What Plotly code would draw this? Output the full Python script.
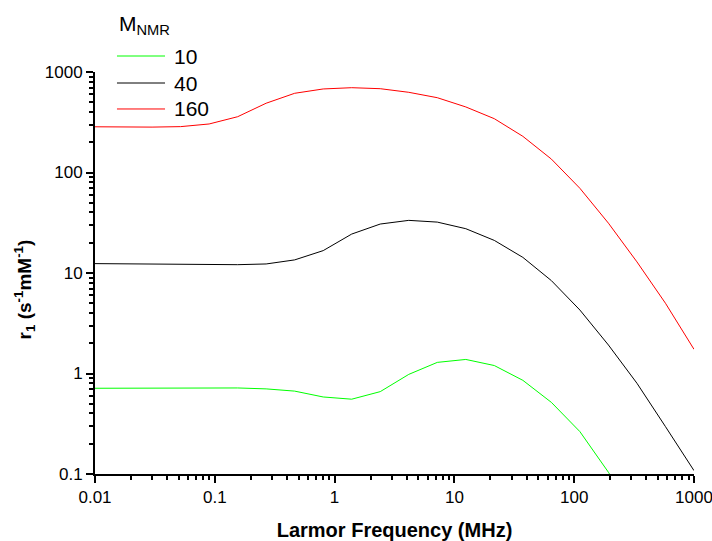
import plotly.graph_objects as go

freq_mhz = [0.01, 0.0173, 0.02995, 0.0518, 0.0897, 0.1552, 0.2683, 0.4642,
            0.8031, 1.389, 2.404, 4.160, 7.197, 12.45, 21.54, 37.28,
            64.49, 111.6, 193.1, 334.0, 577.9, 1000.0]

r1_m10 = [0.713, 0.715, 0.716, 0.718, 0.720, 0.718, 0.703, 0.668,
          0.584, 0.555, 0.66, 0.98, 1.29, 1.38, 1.20, 0.855,
          0.516, 0.264, 0.104, 0.035, 0.012, 0.004]
r1_m40 = [12.4, 12.35, 12.3, 12.2, 12.15, 12.1, 12.3, 13.5,
          16.7, 24.4, 30.7, 33.4, 32.1, 27.6, 21.1, 14.3,
          8.4, 4.28, 1.92, 0.80, 0.296, 0.108]
r1_m160 = [285, 283, 283, 286, 304, 359, 489, 614,
           678, 698, 682, 628, 555, 449, 343, 229,
           136, 69.6, 31.3, 12.9, 5.0, 1.74]

series_names = ["10", "40", "160"]
series_colors = ["#00ff00", "#000000", "#ff0000"]
legend_title = "M<sub>NMR</sub>"
x_title = "<b>Larmor Frequency (MHz)</b>"
y_title = "<b>r<sub>1</sub> (s<sup>-1</sup>mM<sup>-1</sup>)</b>"

x_tickvals = [0.01, 0.1, 1, 10, 100, 1000]
x_ticktext = ["0.01", "0.1", "1", "10", "100", "1000"]
y_tickvals = [0.1, 1, 10, 100, 1000]
y_ticktext = ["0.1", "1", "10", "100", "1000"]

minor_x = [m * 10 ** e for e in range(-2, 3) for m in range(2, 10)]
minor_y = [m * 10 ** e for e in range(-1, 3) for m in range(2, 10)]

FONT = "Liberation Sans, Arial, sans-serif"

fig = go.Figure()
for name, vals, col in zip(series_names, [r1_m10, r1_m40, r1_m160], series_colors):
    fig.add_trace(go.Scatter(x=freq_mhz, y=vals, mode="lines", name=name,
                             line=dict(color=col, width=1), showlegend=False))

# legend drawn in paper coordinates (line sample + label per series)
leg_rows_y = [1.0398, 0.9726, 0.908]
for name, col, yy in zip(series_names, series_colors, leg_rows_y):
    fig.add_shape(type="line", xref="paper", yref="paper",
                  x0=0.0367, x1=0.1169, y0=yy, y1=yy,
                  line=dict(color=col, width=1))
    fig.add_annotation(text=name, xref="paper", yref="paper", x=0.1285, y=yy,
                       xanchor="left", yanchor="middle", showarrow=False,
                       font=dict(family=FONT, size=21, color="black"))
fig.add_annotation(text=legend_title, xref="paper", yref="paper", x=0.036, y=1.118,
                   xanchor="left", yanchor="middle", showarrow=False,
                   font=dict(family=FONT, size=21, color="black"))

# y-axis title (placed slightly below the plot centre, as in the original)
fig.add_annotation(text=y_title, xref="paper", yref="paper", x=-0.118, y=0.46,
                   xanchor="center", yanchor="middle", showarrow=False,
                   textangle=-90,
                   font=dict(family=FONT, size=19, color="black"))

axis_common = dict(
    type="log", showgrid=False, zeroline=False, showline=True,
    linecolor="black", linewidth=2, ticks="outside", ticklen=7,
    tickwidth=2, tickcolor="black", mirror=False, automargin=False,
    ticklabeloverflow="allow",
    tickfont=dict(family=FONT, size=17, color="black"),
)

fig.update_xaxes(
    **axis_common, range=[-2, 3], tickmode="array",
    tickvals=x_tickvals, ticktext=x_ticktext,
    minor=dict(tickmode="array", tickvals=minor_x, ticks="outside",
               ticklen=4, tickwidth=1.5, tickcolor="black", showgrid=False),
    title=dict(text=x_title,
               font=dict(family=FONT, size=20, color="black"), standoff=20),
)
fig.update_yaxes(
    **axis_common, range=[-1, 3], tickmode="array",
    tickvals=y_tickvals, ticktext=y_ticktext,
    minor=dict(tickmode="array", tickvals=minor_y, ticks="outside",
               ticklen=4, tickwidth=1.5, tickcolor="black", showgrid=False),
)

fig.update_layout(
    width=712, height=541,
    margin=dict(l=95, r=18, t=72, b=67, autoexpand=False),
    paper_bgcolor="white", plot_bgcolor="white",
    font=dict(family=FONT, color="black"),
    showlegend=False,
)

# remove the default 8px page margin so the figure fills the 712x541 window
fig.write_html("out.html",
               config={"displayModeBar": False},
               post_script="document.body.style.margin='0';"
                           "document.body.style.overflow='hidden';")
